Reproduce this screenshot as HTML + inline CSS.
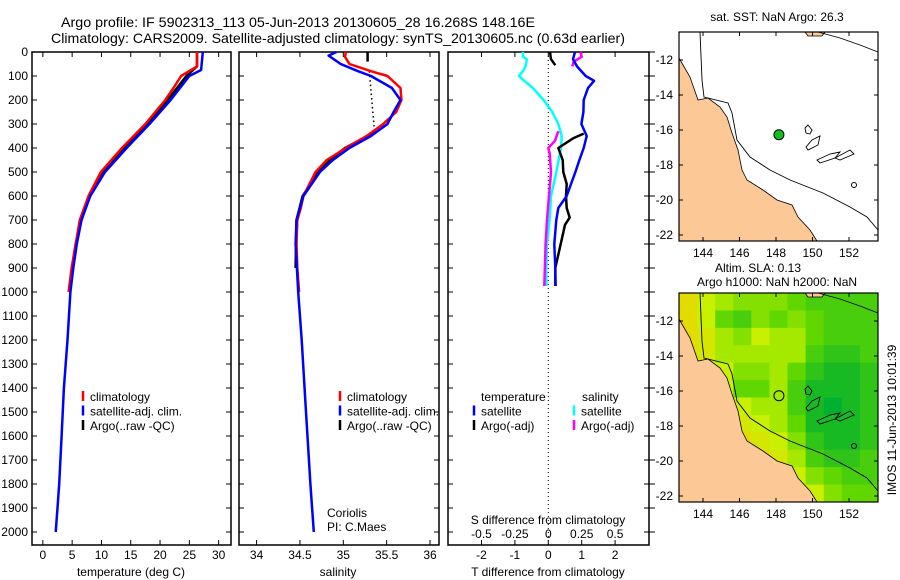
<!DOCTYPE html>
<html><head><meta charset="utf-8"><style>
body{margin:0;background:#fff}
svg{display:block;font-family:"Liberation Sans",sans-serif}
text{fill:#000}
</style></head><body>
<svg id="c" width="900" height="580" viewBox="0 0 900 580" xmlns="http://www.w3.org/2000/svg"></svg>
<script>
// ---------- data ----------
const tempDepthRed=[0,60,100,150,200,300,400,500,600,700,800,900,1000];
const tempRed=[26.3,26.3,23.6,22.3,20.9,17.5,13.5,9.9,7.8,6.3,5.6,4.9,4.4];
const tempDepthBlue=[0,75,100,150,200,300,400,500,600,700,800,900,1000,1200,1400,1600,1800,1900,2000];
const tempBlue=[27.3,27.0,25.0,23.4,21.8,18.2,14.3,10.6,8.1,6.6,5.8,5.2,4.7,4.2,3.6,3.2,2.8,2.5,2.2];
const tempDepthArgo=[0,60,100,200,300,400,500,600,700,800,900,950];
const tempArgo=[26.3,26.3,24.5,21.3,17.9,14.0,10.3,8.0,6.6,5.6,5.0,4.8];
const salDepthRed=[0,20,50,80,100,150,200,250,300,350,400,450,500,550,600,650,700,800,900,1000];
const salRed=[35.03,35.02,35.07,35.32,35.51,35.66,35.67,35.61,35.46,35.27,35.03,34.81,34.68,34.61,34.54,34.51,34.47,34.46,34.47,34.49];
const salDepthBlue=[0,15,50,80,100,150,200,250,300,350,400,450,500,600,700,800,1000,1200,1500,1800,1900,2000];
const salBlue=[34.92,34.83,34.97,35.17,35.32,35.56,35.66,35.58,35.51,35.32,35.07,34.88,34.73,34.54,34.46,34.45,34.48,34.52,34.57,34.62,34.64,34.66];
const salDepthArgoTop=[0,40];
const salArgoTop=[35.28,35.28];
const salDepthArgoDot=[80,330];
const salArgoDot=[35.3,35.36];
const salDepthArgo=[330,350,400,450,500,600,700,900];
const salArgo=[35.38,35.28,35.02,34.84,34.71,34.53,34.46,34.45];
const dTDepthSat=[0,30,60,100,120,150,200,250,300,350,400,450,500,550,600,650,700,800,900,975];
const dTSat=[0.80,0.74,0.86,1.12,1.37,1.19,1.06,1.05,0.99,1.15,1.06,0.93,0.81,0.68,0.55,0.30,0.24,0.18,0.21,0.21];
const dTDepthArgoTop=[0,30,55];
const dTArgoTop=[0.05,0.08,0.21];
const dTDepthArgo=[340,360,400,450,500,550,600,650,690,720,800,900,975];
const dTArgo=[1.06,0.74,0.30,0.43,0.45,0.55,0.53,0.55,0.64,0.50,0.37,0.21,0.22];
const dSDepthSat=[0,20,30,60,80,100,120,150,200,250,300,350,400,500,600,700,800,900,975];
const dSSat=[-0.19,-0.19,-0.16,-0.17,-0.19,-0.22,-0.18,-0.115,-0.035,0.03,0.075,0.10,0.095,0.06,0.02,0.01,-0.01,-0.015,-0.015];
const dSDepthArgoTop=[0,20,40,60];
const dSArgoTop=[0.24,0.25,0.19,0.18];
const dSDepthArgo=[330,370,400,420,500,700,800,975];
const dSArgo=[0.075,0.05,0.0,0.01,0.02,-0.01,-0.02,-0.03];
const depthTicks=[0,100,200,300,400,500,600,700,800,900,1000,1100,1200,1300,1400,1500,1600,1700,1800,1900,2000];
const tempTicks=[0,5,10,15,20,25,30];
const salTicks=[34,34.5,35,35.5,36];
const salTickLabels=["34","34.5","35","35.5","36"];
const dTTicks=[-2,-1,0,1,2];
const dSTicks=[-0.5,-0.25,0,0.25,0.5];
const dSTickLabels=["-0.5","-0.25","0","0.25","0.5"];
const lonTicks=[144,146,148,150,152];
const latTicks=[-12,-14,-16,-18,-20,-22];
const argoLon=148.16, argoLat=-16.268;
const slaGrid=[
[0.1,0.3,0.4,0.5,0.5,0.5,0.6,0.7,0.7,0.7,0.7],
[0.1,0.3,0.6,0.7,0.5,0.6,0.5,0.6,0.7,0.7,0.7],
[0.1,0.2,0.4,0.5,0.3,0.4,0.4,0.6,0.7,0.7,0.7],
[0.1,0.2,0.4,0.4,0.4,0.4,0.4,0.7,0.8,0.8,0.7],
[0.1,0.2,0.3,0.5,0.5,0.4,0.6,0.8,0.9,0.9,0.8],
[0.1,0.2,0.3,0.6,0.6,0.4,0.7,0.9,0.9,0.9,0.8],
[0.1,0.2,0.2,0.3,0.4,0.4,0.7,0.9,1.0,0.9,0.8],
[0.1,0.1,0.1,0.2,0.3,0.4,0.6,0.9,0.9,0.9,0.8],
[0.0,0.0,0.0,0.1,0.2,0.3,0.5,0.8,0.9,0.9,0.8],
[0.1,0.1,0.1,0.1,0.1,0.2,0.4,0.7,0.8,0.8,0.7],
[0.1,0.1,0.1,0.1,0.1,0.1,0.3,0.5,0.6,0.7,0.7],
[0.1,0.1,0.1,0.1,0.1,0.1,0.1,0.3,0.5,0.6,0.6]];

// ---------- helpers ----------
const NS="http://www.w3.org/2000/svg";
const svg=document.getElementById('c');
function mk(tag,attrs,parent){const e=document.createElementNS(NS,tag);for(const k in attrs)e.setAttribute(k,attrs[k]);(parent||svg).appendChild(e);return e;}
function txt(s,x,y,anchor,size,parent){const t=mk('text',{x:x,y:y,'text-anchor':anchor||'middle','font-size':size||12},parent);t.textContent=s;return t;}
const Y0=52, YS=0.24; function yD(d){return Y0+d*YS;}
const P1={l:32,r:231,t:52,b:545}; function x1(v){return 32+(v+1.85)*5.86;}
const P2={l:239,r:439,t:52,b:545}; function x2(v){return 256.6+(v-34)*86.7;}
const P3={l:448,r:649,t:52,b:545}; function x3(v){return 548.3+v*33.4;} function x3s(v){return x3(v*4);}
function line(xs,ds,fx,color,w,name,dash){
  const pts=xs.map((v,i)=>fx(v).toFixed(1)+','+yD(ds[i]).toFixed(1)).join(' ');
  const p=mk('polyline',{points:pts,fill:'none',stroke:color,'stroke-width':w||2.5,'stroke-linejoin':'round'});
  if(dash)p.setAttribute('stroke-dasharray',dash);
  
  
}
function box(P,name){const r=mk('rect',{x:P.l,y:P.t,width:P.r-P.l,height:P.b-P.t,fill:'none',stroke:'#000','stroke-width':1.5});
  
  depthTicks.forEach(d=>{const y=yD(d);mk('line',{x1:P.l,y1:y,x2:P.l+5,y2:y,stroke:'#000'});mk('line',{x1:P.r-5,y1:y,x2:P.r,y2:y,stroke:'#000'});});}
function xticks(P,vals,fx,labels,ly){vals.forEach((v,i)=>{const x=fx(v);mk('line',{x1:x,y1:P.b,x2:x,y2:P.b-5,stroke:'#000'});mk('line',{x1:x,y1:P.t,x2:x,y2:P.t+5,stroke:'#000'});
  const t=txt(labels?labels[i]:String(v),x,ly,'middle',12);});}

// ---------- titles ----------
let t=txt('Argo profile: IF 5902313_113 05-Jun-2013 20130605_28 16.268S 148.16E',61,27,'start',14);
t.setAttribute('textLength','474');t.setAttribute('lengthAdjust','spacingAndGlyphs');

t=txt('Climatology: CARS2009. Satellite-adjusted climatology: synTS_20130605.nc (0.63d earlier)',51,43,'start',14);
t.setAttribute('textLength','574');t.setAttribute('lengthAdjust','spacingAndGlyphs');


// depth labels
depthTicks.forEach(d=>{const t=txt(String(d),28,yD(d)+4,'end',12);});

// ---------- panel 1 ----------
box(P1,'temperature-panel');
xticks(P1,tempTicks,x1,null,559);
t=txt('temperature (deg C)',131,576,'middle',12);
line(tempArgo,tempDepthArgo,x1,'#000',2.5,'argo-temperature-line');
line(tempRed,tempDepthRed,x1,'#f00',2.5,'climatology-temperature-line');
line(tempBlue,tempDepthBlue,x1,'#00f',2.5,'satellite-temperature-line');
function legend(x,y,items){items.forEach((it,i)=>{const yy=y+i*14.5;mk('line',{x1:x,y1:yy-6,x2:x,y2:yy+4,stroke:it[1],'stroke-width':2.5});
  const t=txt(it[0],x+7,yy+4,'start',12);});}
legend(83,397,[['climatology','#f00'],['satellite-adj. clim.','#00f'],['Argo(..raw -QC)','#000']]);

// ---------- panel 2 ----------
box(P2,'salinity-panel');
xticks(P2,salTicks,x2,salTickLabels,559);
t=txt('salinity',338,576,'middle',12);
line(salArgoTop,salDepthArgoTop,x2,'#000',2.5,'argo-salinity-top');
line(salArgoDot,salDepthArgoDot,x2,'#000',1.5,'argo-salinity-gap','1.5,3');
line(salArgo,salDepthArgo,x2,'#000',2.5,'argo-salinity-line');
line(salRed,salDepthRed,x2,'#f00',2.5,'climatology-salinity-line');
line(salBlue,salDepthBlue,x2,'#00f',2.5,'satellite-salinity-line');
legend(340,397,[['climatology','#f00'],['satellite-adj. clim.','#00f'],['Argo(..raw -QC)','#000']]);
t=txt('Coriolis',327,517,'start',12);
t=txt('PI: C.Maes',327,531,'start',12);

// ---------- panel 3 ----------
box(P3,'difference-panel');
depthTicks.forEach(d=>{const y=yD(d);mk('line',{x1:P3.r,y1:y,x2:P3.r+6,y2:y,stroke:'#000'});});
mk('line',{x1:x3(0),y1:P3.t,x2:x3(0),y2:P3.b,stroke:'#000','stroke-dasharray':'1,3'});
xticks(P3,dTTicks,x3,null,559);
dSTicks.forEach((v,i)=>{const t=txt(dSTickLabels[i],x3s(v),538,'middle',12);});
t=txt('S difference from climatology',548,524,'middle',12);
t=txt('T difference from climatology',548,576,'middle',12);
line(dSSat,dSDepthSat,x3s,'#0ff',2.5,'salinity-satellite-diff-line');
line(dSArgoTop,dSDepthArgoTop,x3s,'#f0f',2.5,'salinity-argo-diff-top');
line(dSArgo,dSDepthArgo,x3s,'#f0f',2.5,'salinity-argo-diff-line');
line(dTArgoTop,dTDepthArgoTop,x3,'#000',2.5,'temperature-argo-diff-top');
line(dTArgo,dTDepthArgo,x3,'#000',2.5,'temperature-argo-diff-line');
line(dTSat,dTDepthSat,x3,'#00f',2.5,'temperature-satellite-diff-line');
t=txt('temperature',481,401,'start',12);
t=txt('salinity',582,401,'start',12);
legend(474,411.5,[['satellite','#00f'],['Argo(-adj)','#000']]);
legend(574,411.5,[['satellite','#0ff'],['Argo(-adj)','#f0f']]);

// ---------- maps ----------
const M={l:679,r:878};
function mx(lon){return 703+(lon-144)*18.25;}
const coast=[[679,58],[690,77],[698,100],[708,98],[720,107],[727,117],[732,133],[738,150],[742,170],[747,180],[763,190],[777,200],[792,205],[798,217],[810,230],[817,241],[679,241]];
const shelf=[[700,32],[702,80],[704,97],[728,103],[732,113],[737,140],[750,157],[770,170],[790,180],[823,193],[850,207],[867,217],[878,230]];
const reefs=[[[805,128],[808,125],[812,130],[810,134],[806,133]],[[812,140],[820,136],[818,145],[808,150],[806,147]],[[817,160],[830,154],[840,152],[835,158],[820,163]],[[835,158],[850,150],[854,154],[840,160]]];
function map(top,name,heat){
  const g=mk('g',{transform:'translate(0,'+(top-32)+')'});
  
  const T=32,B=241;
  mk('rect',{x:M.l,y:T,width:M.r-M.l,height:B-T,fill:'#fff'},g);
  if(heat){
    const rows=slaGrid.length,cols=slaGrid[0].length,cw=(M.r-M.l)/cols,ch=(B-T)/rows;
    const stops=[[0,[240,210,0]],[0.3,[200,240,0]],[0.6,[96,216,0]],[1,[0,176,48]]];
    function col(v){for(let i=1;i<stops.length;i++){if(v<=stops[i][0]){const a=stops[i-1],b=stops[i],f=(v-a[0])/(b[0]-a[0]);return 'rgb('+a[1].map((c,k)=>Math.round(c+(b[1][k]-c)*f)).join(',')+')';}}return 'rgb(0,176,48)';}
    slaGrid.forEach((row,r)=>row.forEach((v,c)=>{const cell=mk('rect',{x:M.l+c*cw,y:T+r*ch,width:cw+0.5,height:ch+0.5,fill:col(v)},g);
      
      }));
  }
  mk('polygon',{points:coast.map(p=>p.join(',')).join(' '),fill:'#fcc896',stroke:'#000','stroke-width':0.8},g);
  mk('polygon',{points:'805,32 825,32 822,36 808,36',fill:'#fcc896',stroke:'#000','stroke-width':0.8},g);
  mk('polyline',{points:shelf.map(p=>p.join(',')).join(' '),fill:'none',stroke:'#000','stroke-width':0.9},g);
  mk('polyline',{points:'818,32 840,38 860,45 878,52',fill:'none',stroke:'#000','stroke-width':0.9},g);
  reefs.forEach(r=>mk('polygon',{points:r.map(p=>p.join(',')).join(' '),fill:'none',stroke:'#000','stroke-width':0.9},g));
  mk('circle',{cx:854,cy:185,r:2.5,fill:'none',stroke:'#000'},g);
  const yl=lat=>60+(-12-lat)*17.5;
  const dot=mk('circle',{cx:mx(argoLon),cy:yl(argoLat),r:5,fill:heat?'none':'#10c020',stroke:'#000'},g);
  
  mk('rect',{x:M.l,y:T,width:M.r-M.l,height:B-T,fill:'none',stroke:'#000','stroke-width':1.2},g);
  lonTicks.forEach(l=>{const x=mx(l);mk('line',{x1:x,y1:T,x2:x,y2:T+4,stroke:'#000'},g);mk('line',{x1:x,y1:B,x2:x,y2:B-4,stroke:'#000'},g);
    const t=txt(String(l),x,B+16,'middle',12,g);});
  latTicks.forEach(l=>{const y=yl(l);mk('line',{x1:M.l,y1:y,x2:M.l+4,y2:y,stroke:'#000'},g);mk('line',{x1:M.r,y1:y,x2:M.r-4,y2:y,stroke:'#000'},g);
    const t=txt(String(l),673,y+4,'end',12,g);});
}
map(32,'sst-map',false);
map(293,'sla-map',true);
t=txt('sat. SST: NaN Argo: 26.3',777,21,'middle',12);
t=txt('Altim. SLA: 0.13',758,272,'middle',12);
t=txt('Argo h1000: NaN h2000: NaN',777,286,'middle',12);
t=txt('IMOS 11-Jun-2013 10:01:39',0,0,'middle',12);t.setAttribute('transform','translate(896,420) rotate(-90)');

</script>
</body></html>
